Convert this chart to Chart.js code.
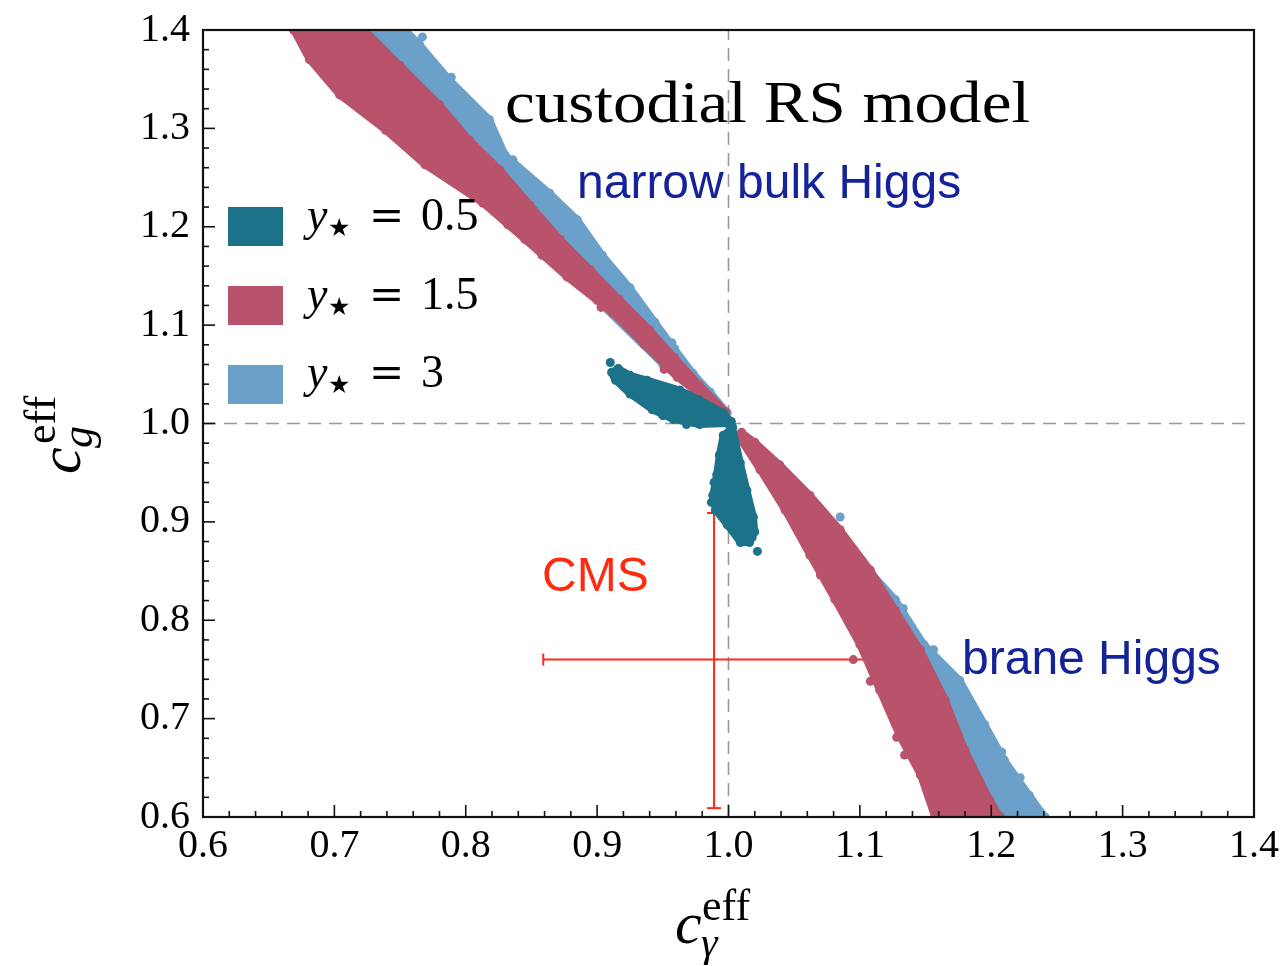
<!DOCTYPE html>
<html>
<head>
<meta charset="utf-8">
<script src="https://cdn.jsdelivr.net/npm/chart.js@4/dist/chart.umd.min.js"></script>
<style>
  body { margin: 0; background: #fff; }
  #wrap { width: 1285px; height: 966px; }
</style>
</head>
<body>
<div id="wrap"><canvas id="chart" width="1285" height="966"></canvas></div>
<script>
// axis ticks
const xTicks = [0.6, 0.7, 0.8, 0.9, 1.0, 1.1, 1.2, 1.3, 1.4];
const yTicks = [0.6, 0.7, 0.8, 0.9, 1.0, 1.1, 1.2, 1.3, 1.4];
const minorStep = 0.02;

// legend values of y*
const yStarValues = ['0.5', '1.5', '3'];

// band outlines, [c_gamma, c_g]
const blueUpper = [[0.713,1.400],[0.754,1.400],[0.765,1.385],[0.788,1.349],[0.818,1.309],[0.830,1.273],
  [0.864,1.234],[0.885,1.207],[0.904,1.171],[0.925,1.138],[0.944,1.103],[0.959,1.076],[0.973,1.051],
  [0.986,1.032],[0.999,1.011],[0.978,1.029],[0.950,1.060],[0.900,1.125],[0.850,1.190],[0.800,1.255],
  [0.750,1.320],[0.713,1.400]];
const blueLower = [[1.009,0.987],[1.031,0.963],[1.054,0.932],[1.077,0.897],[1.100,0.861],[1.127,0.821],
  [1.149,0.775],[1.176,0.739],[1.195,0.694],[1.210,0.658],[1.229,0.622],[1.241,0.600],[1.188,0.600],
  [1.170,0.650],[1.130,0.750],[1.090,0.850],[1.050,0.930],[1.020,0.975],[1.009,0.987]];
const blueDots = [[0.767,1.393],[0.789,1.352],[0.881,1.207],[0.908,1.159],[0.836,1.268],[0.957,1.082],
  [1.172,0.736],[1.208,0.666],[1.184,0.706],[1.085,0.905],[1.133,0.812],[1.156,0.770],[1.222,0.640]];

const redUpper = [[0.669,1.400],[0.681,1.370],[0.704,1.334],[0.739,1.298],[0.769,1.263],[0.813,1.224],
  [0.845,1.187],[0.877,1.149],[0.912,1.112],[0.936,1.080],[0.961,1.047],[0.984,1.024],[0.996,1.010],
  [0.998,1.012],[0.978,1.039],[0.959,1.067],[0.940,1.095],[0.917,1.126],[0.895,1.156],[0.872,1.187],
  [0.849,1.222],[0.826,1.258],[0.803,1.288],[0.780,1.324],[0.750,1.364],[0.723,1.400],[0.669,1.400]];
const redLower = [[1.007,0.988],[1.024,0.953],[1.043,0.912],[1.062,0.866],[1.081,0.821],[1.100,0.775],
  [1.115,0.729],[1.130,0.683],[1.146,0.643],[1.157,0.600],[1.207,0.600],[1.199,0.617],[1.180,0.668],
  [1.165,0.719],[1.146,0.770],[1.127,0.810],[1.108,0.851],[1.085,0.892],[1.062,0.927],[1.039,0.958],
  [1.020,0.981],[1.010,0.991],[1.007,0.988]];
const redDots = [[0.683,1.380],[0.706,1.366],[0.719,1.354],[0.737,1.324],[0.755,1.295],[0.771,1.271],
  [0.786,1.260],[0.832,1.202],[0.858,1.171],[0.903,1.118],[0.951,1.055],
  [1.128,0.697],[1.134,0.663],[1.147,0.651],[1.128,0.681],[1.095,0.760],[1.070,0.846],[1.108,0.738]];

const tealLeft = [[1.002,1.002],[0.996,1.011],[0.978,1.024],[0.963,1.034],[0.938,1.044],[0.925,1.049],
  [0.916,1.056],[0.911,1.052],[0.914,1.044],[0.925,1.030],[0.942,1.014],[0.958,1.004],[0.978,0.999],
  [0.999,1.000],[1.002,1.002]];
const tealDown = [[1.003,0.996],[1.009,0.960],[1.014,0.932],[1.019,0.905],[1.020,0.890],[1.016,0.879],
  [1.009,0.879],[0.999,0.897],[0.990,0.912],[0.988,0.927],[0.991,0.948],[0.993,0.968],[0.996,0.988],[1.003,0.996]];
const tealDots = [[0.910,1.062],[1.022,0.870],[0.987,0.920],[0.913,1.048],[0.950,1.008],[0.968,0.999],
  [0.989,0.940],[1.018,0.884]];

// CMS measurement: [low, central, high]
const cmsX = [0.859, 0.989, 1.108];
const cmsY = [0.609, 0.760, 0.909];
const refLine = 1.0;

const teal = '#1b7289';
const red = '#b9526b';
const blue = '#6aa0c9';
const navy = '#14239a';
const cmsRed = '#ff2a12';

const pts = arr => arr.map(p => ({ x: p[0], y: p[1] }));

function band(arr, color, order) {
  return {
    data: pts(arr), showLine: true, fill: 'shape', order: order,
    borderColor: color, backgroundColor: color, borderWidth: 7, borderJoinStyle: 'round',
    pointRadius: 4.5, pointBackgroundColor: color, pointBorderWidth: 0, tension: 0
  };
}
function dots(arr, color, order) {
  return { data: pts(arr), order: order, pointRadius: 4.5, pointBackgroundColor: color, pointBorderWidth: 0 };
}

const datasets = [
  // reference dashed lines
  { data: [{x: refLine, y: 0.6}, {x: refLine, y: 1.4}], showLine: true, order: 20, borderColor: '#999',
    borderWidth: 1.6, borderDash: [13, 8], pointRadius: 0 },
  { data: [{x: 0.6, y: refLine}, {x: 1.4, y: refLine}], showLine: true, order: 20, borderColor: '#999',
    borderWidth: 1.6, borderDash: [13, 8], pointRadius: 0 },
  // CMS error bars
  { data: [{x: cmsX[0], y: cmsY[1]}, {x: cmsX[2], y: cmsY[1]}], showLine: true, order: 15, borderColor: cmsRed,
    borderWidth: 2, pointStyle: 'line', rotation: 90, pointRadius: 6, pointBorderColor: cmsRed, pointBorderWidth: 2 },
  { data: [{x: cmsX[1], y: cmsY[0]}, {x: cmsX[1], y: cmsY[2]}], showLine: true, order: 15, borderColor: cmsRed,
    borderWidth: 2, pointStyle: 'line', rotation: 0, pointRadius: 7, pointBorderColor: cmsRed, pointBorderWidth: 2 },
  band(blueUpper, blue, 8), band(blueLower, blue, 8), dots(blueDots, blue, 8),
  band(redUpper, red, 6), band(redLower, red, 6), dots(redDots, red, 6),
  band(tealLeft, teal, 4), band(tealDown, teal, 4), dots(tealDots, teal, 4)
];

const decorations = {
  id: 'decorations',
  afterDraw(chart) {
    const { ctx, chartArea: a, scales: { x, y } } = chart;
    ctx.save();
    // minor + major ticks, inward, left and bottom
    ctx.strokeStyle = '#111';
    ctx.lineWidth = 1.6;
    for (let v = 0.6; v <= 1.4001; v += minorStep) {
      const major = xTicks.some(t => Math.abs(t - v) < 1e-6);
      const len = major ? 12 : 6;
      const px = x.getPixelForValue(v);
      ctx.beginPath(); ctx.moveTo(px, a.bottom); ctx.lineTo(px, a.bottom - len); ctx.stroke();
      const py = y.getPixelForValue(v);
      ctx.beginPath(); ctx.moveTo(a.left, py); ctx.lineTo(a.left + len, py); ctx.stroke();
    }
    // frame
    ctx.lineWidth = 2.2;
    ctx.strokeStyle = '#111';
    ctx.strokeRect(a.left, a.top, a.right - a.left, a.bottom - a.top);

    // title text, stretched a little to match the wider TeX face
    ctx.fillStyle = '#000';
    ctx.textBaseline = 'alphabetic';
    ctx.font = '60px "Liberation Serif"';
    const title = 'custodial RS model';
    const sx = 525 / ctx.measureText(title).width;
    ctx.save();
    ctx.translate(505, 122);
    ctx.scale(sx, 1);
    ctx.fillText(title, 0, 0);
    ctx.restore();

    ctx.fillStyle = navy;
    ctx.font = '48px "Liberation Sans"';
    ctx.fillText('narrow bulk Higgs', 577, 198);
    ctx.fillText('brane Higgs', 962, 674);

    ctx.fillStyle = cmsRed;
    ctx.fillText('CMS', 542, 591);

    // legend
    const colors = [teal, red, blue];
    yStarValues.forEach((val, i) => {
      const top = 207 + i * 79;
      const base = 230 + i * 78.5;
      ctx.fillStyle = colors[i];
      ctx.fillRect(228, top, 55, 39);
      ctx.fillStyle = '#000';
      ctx.font = 'italic 46px "Liberation Serif"';
      ctx.fillText('y', 307, base);
      ctx.font = '25px "DejaVu Sans"';
      ctx.fillText('\u2605', 328, base + 6);
      ctx.font = '42px "DejaVu Serif"';
      ctx.fillText('=', 369, base);
      ctx.font = '46px "Liberation Serif"';
      ctx.fillText(val, 421, base);
    });

    // x axis title
    ctx.fillStyle = '#000';
    ctx.font = 'italic 60px "Liberation Serif"';
    ctx.fillText('c', 675, 943);
    ctx.font = '44px "Liberation Serif"';
    ctx.fillText('eff', 702, 920);
    ctx.font = 'italic 42px "Liberation Serif"';
    ctx.fillText('\u03b3', 701, 956);

    // y axis title
    ctx.translate(80, 474);
    ctx.rotate(-Math.PI / 2);
    ctx.font = 'italic 60px "Liberation Serif"';
    ctx.fillText('c', 0, 0);
    ctx.font = 'italic 44px "Liberation Serif"';
    ctx.fillText('g', 26, 12);
    ctx.font = '44px "Liberation Serif"';
    ctx.fillText('eff', 30, -25);
    ctx.restore();
  }
};

const tickFont = { family: 'Liberation Serif', size: 40 };

new Chart(document.getElementById('chart'), {
  type: 'scatter',
  data: { datasets: datasets },
  options: {
    responsive: false,
    animation: false,
    events: [],
    layout: { padding: { top: 30, right: 31, left: 0, bottom: 0 } },
    plugins: { legend: { display: false }, tooltip: { enabled: false } },
    scales: {
      x: {
        type: 'linear', min: 0.6, max: 1.4,
        afterBuildTicks: s => { s.ticks = xTicks.map(v => ({ value: v })); },
        afterFit: s => { s.height = 149; s.paddingLeft = 0; s.paddingRight = 0; },
        grid: { display: false, drawTicks: false },
        border: { display: false },
        ticks: { font: tickFont, color: '#000', padding: 5, maxRotation: 0, autoSkip: false,
                 callback: v => v.toFixed(1) }
      },
      y: {
        type: 'linear', min: 0.6, max: 1.4,
        afterBuildTicks: s => { s.ticks = yTicks.map(v => ({ value: v })); },
        afterFit: s => { s.width = 203; s.paddingTop = 0; s.paddingBottom = 0; },
        grid: { display: false, drawTicks: false },
        border: { display: false },
        ticks: { font: tickFont, color: '#000', padding: 13, autoSkip: false,
                 callback: v => v.toFixed(1) }
      }
    }
  },
  plugins: [decorations]
});
</script>
</body>
</html>
